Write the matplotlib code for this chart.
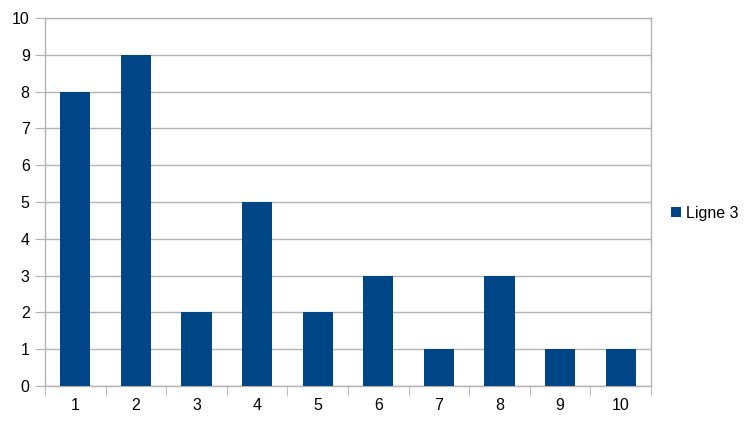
import numpy as np
import matplotlib.pyplot as plt

plt.rcParams['font.family'] = ['Liberation Sans', 'DejaVu Sans']

categories = ['1', '2', '3', '4', '5', '6', '7', '8', '9', '10']
values = [8, 9, 2, 5, 2, 3, 1, 3, 1, 1]
series_name = 'Ligne 3'

fig = plt.figure(figsize=(7.56, 4.25), dpi=100)
ax = fig.add_axes([45 / 756, 39 / 425, 606 / 756, 368 / 425])

x = np.arange(len(categories))
ax.bar(x, values, width=0.5, color='#004586', label=series_name, zorder=3)

ax.set_xlim(-0.5, len(categories) - 0.5)
ax.set_ylim(0, 10)
ax.set_yticks(range(0, 11))
ax.yaxis.grid(True, color='#b3b3b3', linewidth=1, zorder=0)

ax.set_xticks(x)
ax.set_xticklabels(categories)
ax.set_xticks(np.arange(-0.5, len(categories)), minor=True)
ax.tick_params(axis='x', which='major', length=0, pad=9, labelsize=11.5)
ax.tick_params(axis='x', which='minor', length=7, color='#b3b3b3', direction='out')
ax.tick_params(axis='y', length=7, color='#b3b3b3', pad=4, labelsize=11.5)

for s in ax.spines.values():
    s.set_color('#b3b3b3')
    s.set_linewidth(1)

fig.legend(loc='center left', bbox_to_anchor=(671 / 756, 1 - 213 / 425),
           frameon=False, fontsize=11.5, handlelength=0.65, handleheight=0.65,
           handletextpad=0.3, borderpad=0, borderaxespad=0)

fig.savefig('out.png', dpi=100)
